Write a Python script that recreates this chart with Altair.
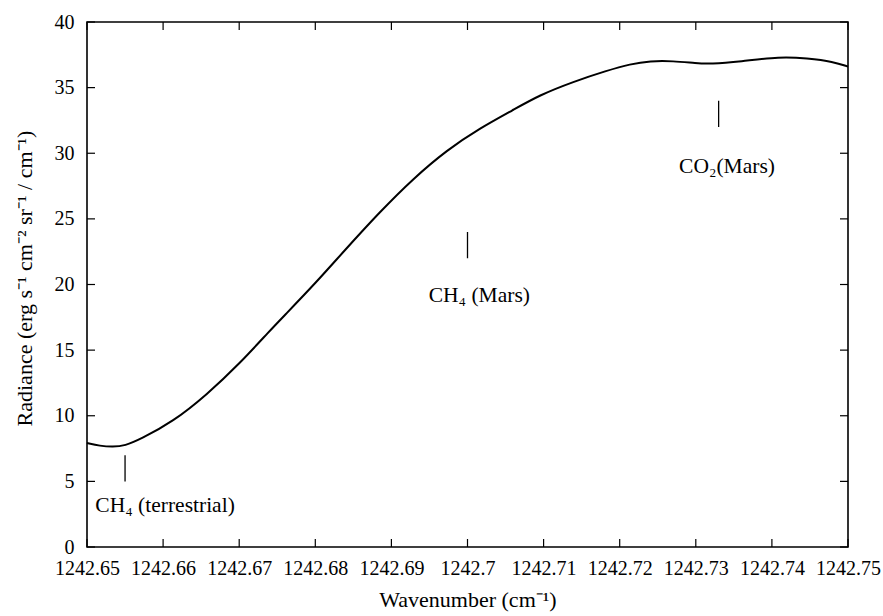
import altair as alt
import pandas as pd

# Radiance spectrum (wavenumber in cm^-1, radiance in erg s^-1 cm^-2 sr^-1 / cm^-1)
wavenumber = [
    1242.6500, 1242.6517, 1242.6534, 1242.6550, 1242.6570, 1242.6613,
    1242.6657, 1242.6701, 1242.6741, 1242.6758, 1242.6802, 1242.6837,
    1242.6885, 1242.6929, 1242.6973, 1242.7016, 1242.7060, 1242.7095,
    1242.7139, 1242.7183, 1242.7214, 1242.7240, 1242.7270, 1242.7301,
    1242.7319, 1242.7358, 1242.7411, 1242.7446, 1242.7481, 1242.7500,
]
radiance = [
    7.92, 7.70, 7.62, 7.72, 8.20, 9.55,
    11.58, 14.00, 16.53, 17.55, 20.21, 22.50,
    25.55, 28.09, 30.25, 31.90, 33.30, 34.44,
    35.45, 36.29, 36.80, 37.03, 37.03, 36.85,
    36.80, 36.98, 37.36, 37.23, 36.98, 36.60,
]

# Line identifications: marker position, marker extent and label placement
line_names = ["CH\u2084 (terrestrial)", "CH\u2084 (Mars)", "CO\u2082(Mars)"]
line_pos = [1242.655, 1242.700, 1242.733]
mark_lo = [5.0, 22.0, 32.0]
mark_hi = [7.0, 24.0, 34.0]
label_x = [1242.6511, 1242.6949, 1242.7278]
label_y = [2.65, 18.65, 28.5]

x_ticks = [1242.65, 1242.66, 1242.67, 1242.68, 1242.69, 1242.70,
           1242.71, 1242.72, 1242.73, 1242.74, 1242.75]
y_ticks = [0, 5, 10, 15, 20, 25, 30, 35, 40]

W, H = 761, 525
FONT = "Liberation Serif"
TICK = 8

spec = pd.DataFrame({"wn": wavenumber, "rad": radiance})
lines = pd.DataFrame({"name": line_names, "pos": line_pos, "lo": mark_lo,
                      "hi": mark_hi, "lx": label_x, "ly": label_y})
xt = pd.DataFrame({"v": x_ticks})
yt = pd.DataFrame({"v": y_ticks})

xscale = alt.Scale(domain=[1242.65, 1242.75], nice=False, zero=False)
yscale = alt.Scale(domain=[0, 40], nice=False)

axis_text = dict(labelFont=FONT, labelFontSize=20, labelColor="black",
                 titleFont=FONT, titleFontSize=22, titleColor="black",
                 titleFontWeight="normal", ticks=False, tickSize=0,
                 domain=False, grid=False, labelFlush=False)

curve = alt.Chart(spec).mark_line(color="black", strokeWidth=2,
                                  interpolate="basis").encode(
    x=alt.X("wn:Q", scale=xscale,
            axis=alt.Axis(title="Wavenumber (cm\u207B\u00B9)", values=x_ticks,
                          format=".6~g", labelPadding=11, titlePadding=11,
                          **axis_text)),
    y=alt.Y("rad:Q", scale=yscale,
            axis=alt.Axis(title="Radiance (erg s\u207B\u00B9 cm\u207B\u00B2 sr\u207B\u00B9 / cm\u207B\u00B9)",
                          values=y_ticks, labelPadding=13, titleX=-63, titleY=256,
                          titleAlign="center", titleBaseline="middle",
                          titleAngle=270, **axis_text)),
)

# Inward tick marks on all four sides
xb = alt.Chart(xt).mark_rule(color="black", strokeWidth=1.2).encode(
    x=alt.X("v:Q", scale=xscale), y=alt.value(H), y2=alt.value(H - TICK))
xtop = alt.Chart(xt).mark_rule(color="black", strokeWidth=1.2).encode(
    x=alt.X("v:Q", scale=xscale), y=alt.value(0), y2=alt.value(TICK))
yl = alt.Chart(yt).mark_rule(color="black", strokeWidth=1.2).encode(
    y=alt.Y("v:Q", scale=yscale), x=alt.value(0), x2=alt.value(TICK))
yr = alt.Chart(yt).mark_rule(color="black", strokeWidth=1.2).encode(
    y=alt.Y("v:Q", scale=yscale), x=alt.value(W), x2=alt.value(W - TICK))

markers = alt.Chart(lines).mark_rule(color="black", strokeWidth=1.3).encode(
    x=alt.X("pos:Q", scale=xscale), y=alt.Y("lo:Q", scale=yscale), y2="hi:Q")
labels = alt.Chart(lines).mark_text(font=FONT, fontSize=21.5, color="black",
                                    align="left", baseline="alphabetic").encode(
    x=alt.X("lx:Q", scale=xscale), y=alt.Y("ly:Q", scale=yscale), text="name:N")

chart = alt.layer(curve, xb, xtop, yl, yr, markers, labels).properties(
    width=W, height=H,
    autosize=alt.AutoSizeParams(type="none"),
    padding={"left": 87, "top": 22, "right": 35, "bottom": 69},
    background="white",
).configure_view(
    stroke="black", strokeWidth=1.6
)

chart.save("out.html", embed_options={"renderer": "svg", "actions": False})
